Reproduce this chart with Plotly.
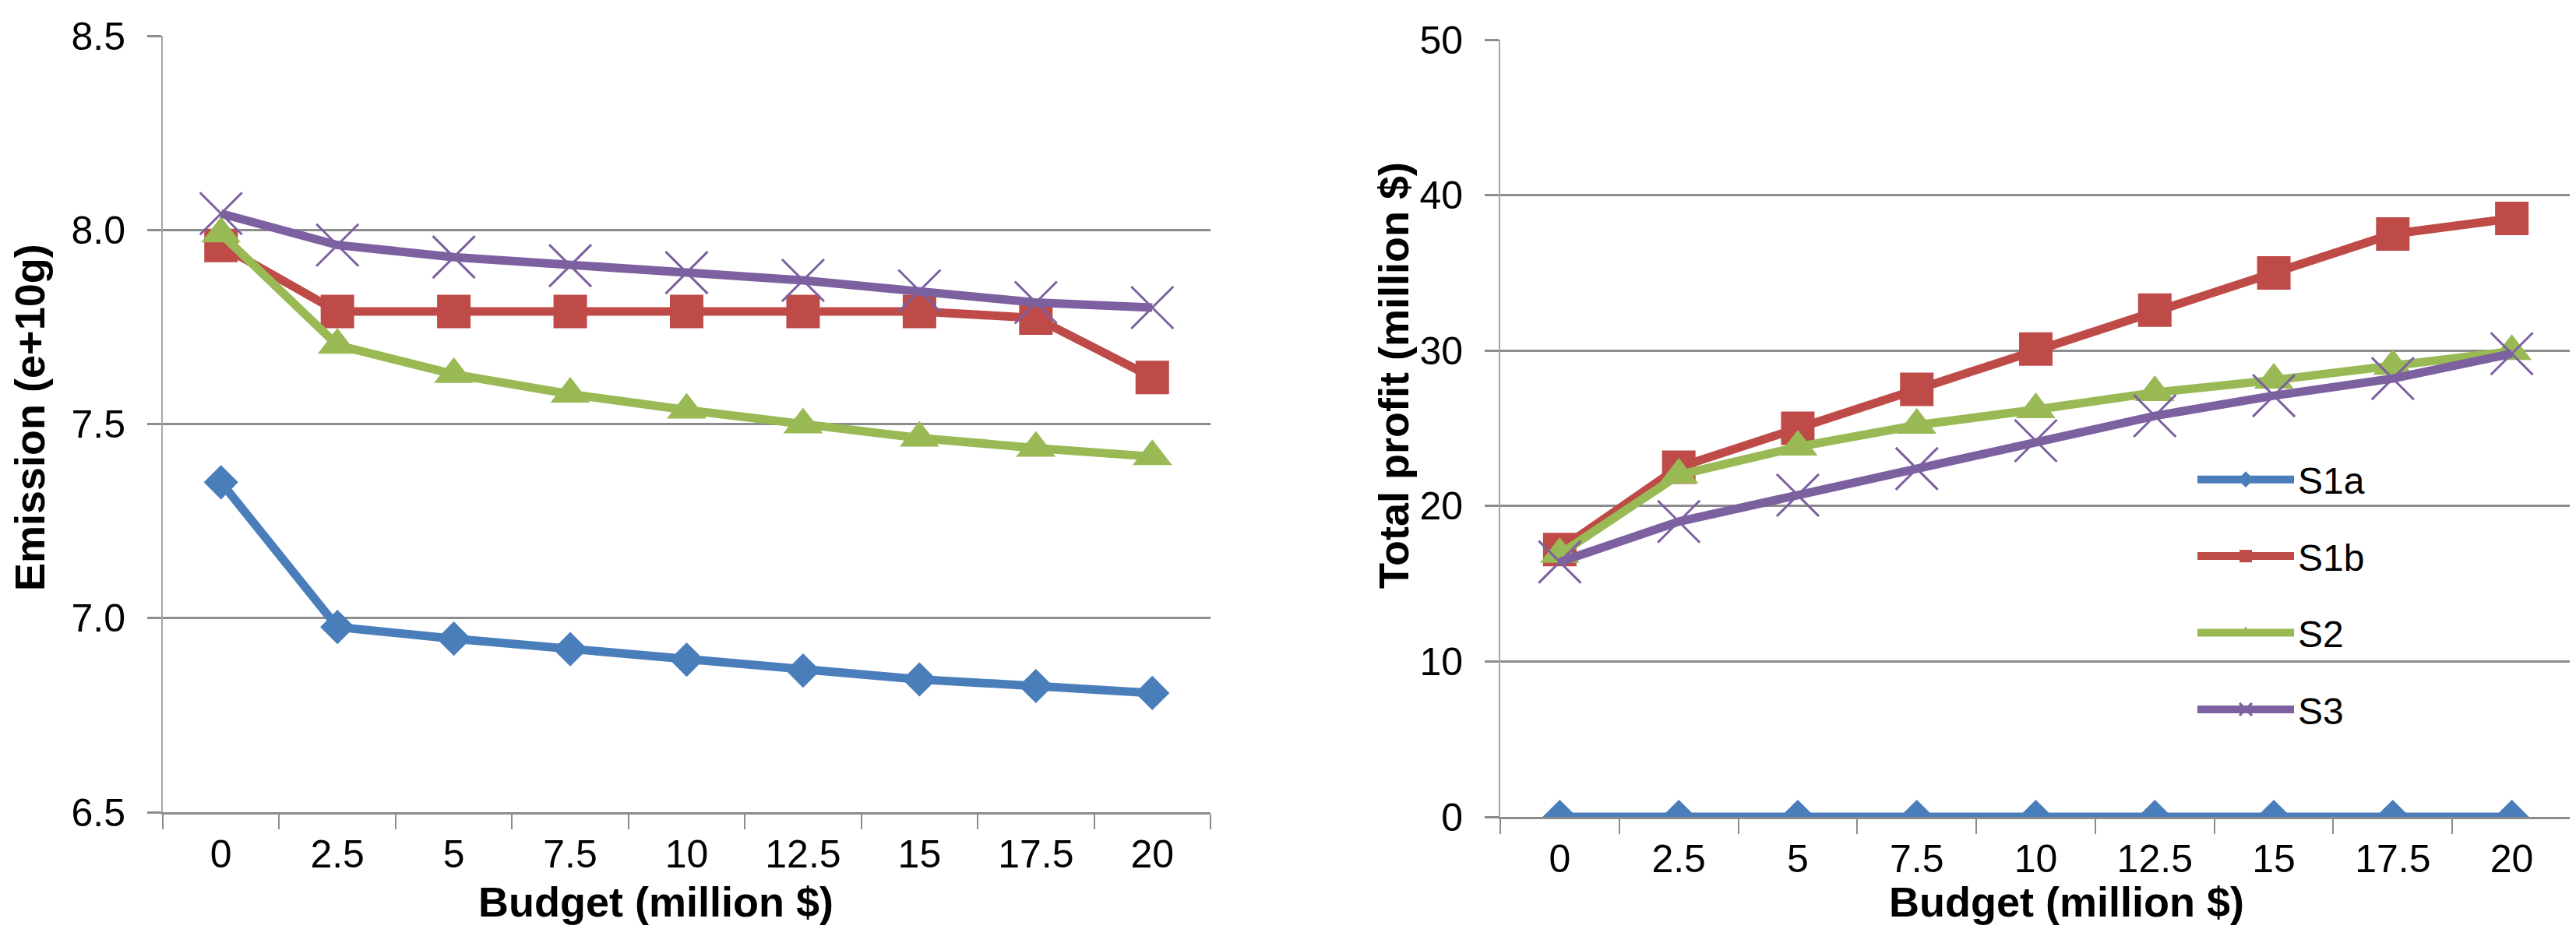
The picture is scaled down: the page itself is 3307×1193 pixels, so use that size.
import plotly.graph_objects as go

budget = ["0", "2.5", "5", "7.5", "10", "12.5", "15", "17.5", "20"]
series_names = ["S1a", "S1b", "S2", "S3"]

emission_s1a = [7.35, 6.977, 6.947, 6.92, 6.893, 6.865, 6.842, 6.825, 6.807]
emission_s1b = [7.96, 7.79, 7.79, 7.79, 7.79, 7.79, 7.79, 7.773, 7.62]
emission_s2 = [7.99, 7.703, 7.628, 7.577, 7.536, 7.498, 7.464, 7.438, 7.416]
emission_s3 = [8.042, 7.961, 7.93, 7.908, 7.89, 7.87, 7.843, 7.813, 7.8]

profit_s1a = [0, 0, 0, 0, 0, 0, 0, 0, 0]
profit_s1b = [17.2, 22.5, 25.0, 27.5, 30.1, 32.6, 35.0, 37.5, 38.5]
profit_s2 = [16.9, 22.0, 23.8, 25.2, 26.2, 27.3, 28.1, 29.0, 29.95]
profit_s3 = [16.4, 19.0, 20.7, 22.4, 24.2, 25.8, 27.1, 28.2, 29.8]

emission_ticks = [6.5, 7.0, 7.5, 8.0, 8.5]
profit_ticks = [0, 10, 20, 30, 40, 50]

colors = ["#4A7EBB", "#BE4B48", "#98B954", "#7D60A0"]
symbols = ["diamond", "square", "triangle-up", "x-thin"]
msizes = [34, 43, 44, 54]

W, H = 3307, 1193
FONT = "Liberation Sans, Arial, sans-serif"
GRID = "#8C8C8C"

fig = go.Figure()

emis = [emission_s1a, emission_s1b, emission_s2, emission_s3]
prof = [profit_s1a, profit_s1b, profit_s2, profit_s3]


def marker(i):
    return dict(symbol=symbols[i], size=msizes[i], color=colors[i],
                line=dict(width=3 if symbols[i] == "x-thin" else 0, color=colors[i]))


for i, name in enumerate(series_names):
    fig.add_trace(go.Scatter(x=budget, y=emis[i], name=name, mode="lines+markers",
                             line=dict(color=colors[i], width=11), marker=marker(i),
                             xaxis="x", yaxis="y", showlegend=False))
for i, name in enumerate(series_names):
    fig.add_trace(go.Scatter(x=budget, y=prof[i], name=name, mode="lines+markers",
                             line=dict(color=colors[i], width=11), marker=marker(i),
                             xaxis="x2", yaxis="y2", showlegend=True, legendgroup=name))

xcommon = dict(type="category", categoryorder="array", categoryarray=budget,
               range=[-0.5, 8.5], showgrid=False, showline=True, linecolor=GRID, linewidth=3,
               ticks="outside", tickson="boundaries", ticklen=19, tickwidth=2, tickcolor=GRID,
               tickfont=dict(family=FONT, size=50, color="black"), ticklabelstandoff=8,
               zeroline=False, fixedrange=True, automargin=False)
ycommon = dict(showgrid=True, gridcolor=GRID, gridwidth=3, showline=True, linecolor="#A6A6A6",
               linewidth=2, ticks="outside", ticklen=18, tickwidth=3, tickcolor=GRID,
               tickfont=dict(family=FONT, size=50, color="black"), ticklabelstandoff=18,
               zeroline=False, fixedrange=True, automargin=False)

fig.update_layout(
    width=W, height=H, autosize=False,
    margin=dict(l=0, r=0, t=0, b=0, pad=0),
    paper_bgcolor="white", plot_bgcolor="white",
    xaxis=dict(domain=[201 / W, 1546 / W], anchor="y", **xcommon),
    xaxis2=dict(domain=[1918 / W, 3293 / W], anchor="y2", **xcommon),
    yaxis=dict(domain=[1 - 1035 / H, 1 - 38 / H], anchor="x", range=[6.5, 8.5],
               tickvals=emission_ticks, ticktext=[f"{v:.1f}" for v in emission_ticks], **ycommon),
    yaxis2=dict(domain=[1 - 1041 / H, 1 - 43 / H], anchor="x2", range=[0, 50],
                tickvals=profit_ticks, ticktext=[str(v) for v in profit_ticks], **ycommon),
    legend=dict(x=2808 / W, y=1 - 570 / H, xanchor="left", yanchor="top",
                bgcolor="rgba(0,0,0,0)", font=dict(family=FONT, size=48, color="black"),
                traceorder="grouped", tracegroupgap=33, itemwidth=124, itemsizing="trace"),
    showlegend=True,
)

title_font = dict(family=FONT, size=54, color="black", weight="bold")
fig.add_annotation(text="Emission (e+10g)", x=30 / W, y=1 - 528 / H, xref="paper", yref="paper",
                   textangle=-90, showarrow=False, font=title_font, xanchor="center", yanchor="middle")
fig.add_annotation(text="Total profit (million $)", x=1781 / W, y=1 - 474 / H, xref="paper", yref="paper",
                   textangle=-90, showarrow=False, font=title_font, xanchor="center", yanchor="middle")
fig.add_annotation(text="Budget (million $)", x=834 / W, y=1 - 1150 / H, xref="paper", yref="paper",
                   showarrow=False, font=title_font, xanchor="center", yanchor="middle")
fig.add_annotation(text="Budget (million $)", x=2645 / W, y=1 - 1150 / H, xref="paper", yref="paper",
                   showarrow=False, font=title_font, xanchor="center", yanchor="middle")

fig.write_html("out.html")
